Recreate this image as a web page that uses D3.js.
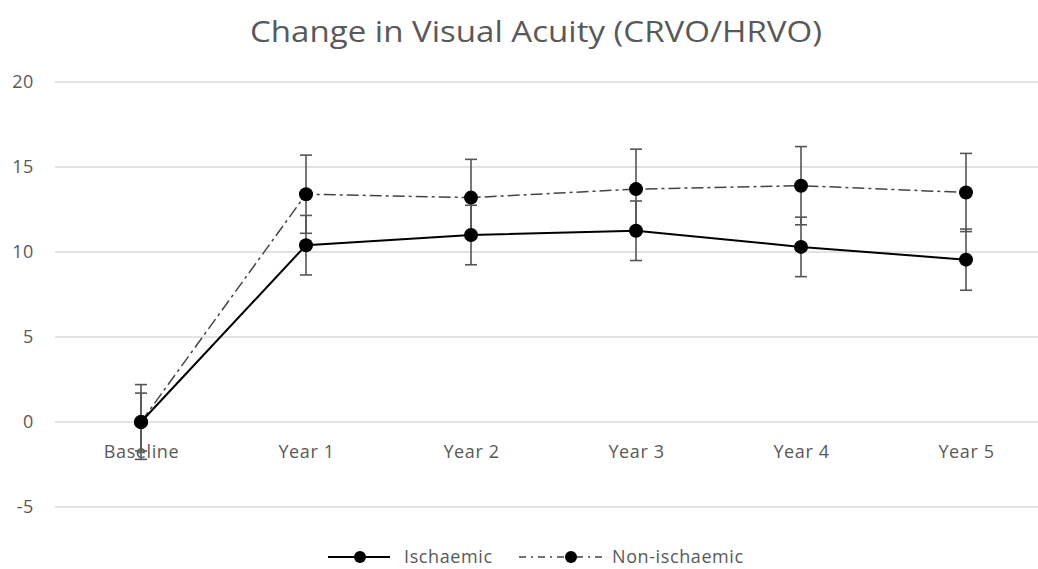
<!DOCTYPE html>
<html>
<head>
<meta charset="utf-8">
<script src="https://cdn.jsdelivr.net/npm/d3@7"></script>
<style>
  html, body { margin: 0; padding: 0; background: #fff; }
  svg { display: block; }
  text { font-family: "Open Sans", "Noto Sans", sans-serif; fill: #595959; }
</style>
</head>
<body>
<svg id="chart" width="1038" height="569"></svg>
<script>
const categories = ["Baseline", "Year 1", "Year 2", "Year 3", "Year 4", "Year 5"];
const ischaemic = [0, 10.4, 11.0, 11.25, 10.3, 9.55];
const ischaemicErr = [1.7, 1.75, 1.75, 1.75, 1.75, 1.8];
const nonIschaemic = [0, 13.4, 13.2, 13.7, 13.9, 13.5];
const nonIschaemicErr = [2.2, 2.3, 2.25, 2.35, 2.3, 2.3];
const yTicks = [-5, 0, 5, 10, 15, 20];
const title = "Change in Visual Acuity (CRVO/HRVO)";
const seriesNames = ["Ischaemic", "Non-ischaemic"];

const svg = d3.select("#chart");
const W = 1038, H = 569;

const x = d3.scalePoint().domain(categories).range([141, 966]);
const y = d3.scaleLinear().domain([-5, 20]).range([507, 82]);

// title
svg.append("text")
  .attr("x", 536).attr("y", 42)
  .attr("text-anchor", "middle")
  .attr("textLength", 572)
  .attr("lengthAdjust", "spacingAndGlyphs")
  .style("font-size", "30px")
  .text(title);

// gridlines
const gridG = svg.append("g");
gridG.selectAll("line").data(yTicks).join("line")
  .attr("x1", 55).attr("x2", W)
  .attr("y1", d => y(d)).attr("y2", d => y(d))
  .attr("stroke", "#d9d9d9").attr("stroke-width", 1.3);

const labelStyle = sel => sel
  .style("font-size", "18px")
  .style("letter-spacing", "0.6px")
  .style("font-family", "'Open Sans', sans-serif")
  .attr("fill", "#595959");

// y axis labels
const yAxis = d3.axisLeft(y).tickValues(yTicks).tickSize(0).tickPadding(0).tickFormat(d => String(d));
const yg = svg.append("g").attr("transform", "translate(34,0)").call(yAxis);
yg.select(".domain").remove();
yg.selectAll("text").call(labelStyle);

const series = [
  { name: seriesNames[1], values: nonIschaemic, err: nonIschaemicErr, dash: "12,4,3,4", color: "#444", width: 1.5 },
  { name: seriesNames[0], values: ischaemic, err: ischaemicErr, dash: null, color: "#000", width: 2 }
];

const line = d3.line().x((d, i) => x(categories[i])).y(d => y(d));

// lines
series.forEach(s => {
  svg.append("path").datum(s.values)
    .attr("d", line)
    .attr("fill", "none")
    .attr("stroke", s.color)
    .attr("stroke-width", s.width)
    .attr("stroke-dasharray", s.dash);
});

// error bars
series.forEach(s => {
  const g = svg.append("g").attr("stroke", "#555").attr("stroke-width", 1.6);
  s.values.forEach((v, i) => {
    const cx = x(categories[i]);
    const top = y(v + s.err[i]), bot = y(v - s.err[i]);
    g.append("line").attr("x1", cx).attr("x2", cx).attr("y1", top).attr("y2", bot);
    g.append("line").attr("x1", cx - 6).attr("x2", cx + 6).attr("y1", top).attr("y2", top);
    g.append("line").attr("x1", cx - 6).attr("x2", cx + 6).attr("y1", bot).attr("y2", bot);
  });
});

// markers
series.forEach(s => {
  svg.append("g").selectAll("circle").data(s.values).join("circle")
    .attr("cx", (d, i) => x(categories[i]))
    .attr("cy", d => y(d))
    .attr("r", 7)
    .attr("fill", "#000");
});

// x axis labels (drawn over error bars)
const xAxis = d3.axisBottom(x).tickSize(0).tickPadding(0);
const xg = svg.append("g").attr("transform", "translate(0,445)").call(xAxis);
xg.select(".domain").remove();
xg.selectAll("text").call(labelStyle);

// legend
const ly = 557;
const leg = svg.append("g");
leg.append("line").attr("x1", 328).attr("x2", 390).attr("y1", ly).attr("y2", ly)
  .attr("stroke", "#000").attr("stroke-width", 2);
leg.append("circle").attr("cx", 360).attr("cy", ly).attr("r", 6).attr("fill", "#000");
leg.append("text").attr("x", 404).attr("y", ly + 6).call(labelStyle).text(seriesNames[0]);

leg.append("line").attr("x1", 519).attr("x2", 602).attr("y1", ly).attr("y2", ly)
  .attr("stroke", "#444").attr("stroke-width", 1.5).attr("stroke-dasharray", "7,5,2,5");
leg.append("circle").attr("cx", 571).attr("cy", ly).attr("r", 6).attr("fill", "#000");
leg.append("text").attr("x", 612).attr("y", ly + 6).call(labelStyle).text(seriesNames[1]);
</script>
</body>
</html>
